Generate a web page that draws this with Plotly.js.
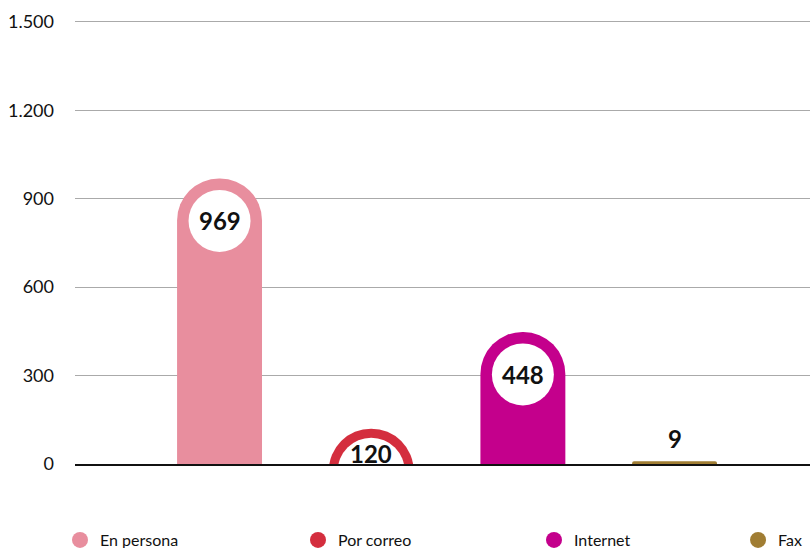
<!DOCTYPE html>
<html><head><meta charset="utf-8">
<script src="https://cdn.plot.ly/plotly-3.0.1.min.js"></script>
<style>html,body{margin:0;padding:0;background:#fff}#chart{width:810px;height:548px}</style>
</head><body><div id="chart"></div>
<script>
const categories = ['En persona', 'Por correo', 'Internet', 'Fax'];
const values = [969, 120, 448, 9];
const colors = ['#E88E9E', '#D42E3E', '#C4008C', '#A07D33'];
const yTickVals = [0, 300, 600, 900, 1200, 1500];
const yTickText = ['0', '300', '600', '900', '1.200', '1.500'];

const W = 810, H = 548, M = {l: 75, r: 0, t: 19, b: 84, autoexpand: false};
const plotW = W - M.l - M.r, plotH = H - M.t - M.b;
const yMax = 1510;
const xRange = [-0.953, 3.893];
const barWidth = 0.56;
const pxPerUnitY = plotH / yMax;
const pxPerCat = plotW / (xRange[1] - xRange[0]);
const barPx = barWidth * pxPerCat;
const capR = barPx / 2;
const capUnits = capR / pxPerUnitY;
const circleSize = 62;
const ringSize = barPx - 18;
const minLabelUnits = 34;
const labelFont = {family: 'Lato', size: 24, color: '#111'};

// classify bars: tall (rounded bar), ring (shorter than cap), flat (tiny)
const kind = values.map(v => {
  const h = v * pxPerUnitY;
  if (h < 10) return 'flat';
  if (h < capR) return 'ring';
  return 'tall';
});

const traces = [];
const bx = [], by = [], bc = [];
const rx = [], ry = [], rc = [];
const cx = [], cy = [], cs = [];
const annotations = [];
values.forEach((v, i) => {
  const c = v - capUnits;
  if (kind[i] === 'ring') {
    rx.push(categories[i]); ry.push(c); rc.push(colors[i]);
    cx.push(categories[i]); cy.push(c); cs.push(ringSize);
    annotations.push({x: categories[i], y: Math.max(c, minLabelUnits), yanchor: 'middle', showarrow: false,
      text: '<b>' + v + '</b>', font: labelFont});
  } else {
    bx.push(categories[i]); by.push(v); bc.push(colors[i]);
    if (kind[i] === 'tall') {
      cx.push(categories[i]); cy.push(c); cs.push(circleSize);
      annotations.push({x: categories[i], y: c, yanchor: 'middle', showarrow: false,
        text: '<b>' + v + '</b>', font: labelFont});
    } else {
      annotations.push({x: categories[i], y: v, yanchor: 'bottom', yshift: 6, showarrow: false,
        text: '<b>' + v + '</b>', font: labelFont});
    }
  }
});

traces.push({
  type: 'bar', x: bx, y: by, width: barWidth,
  marker: {color: bc, cornerradius: '50%'},
  showlegend: false, hoverinfo: 'x+y'
});
traces.push({
  type: 'scatter', mode: 'markers', x: rx, y: ry,
  marker: {color: rc, size: barPx, opacity: 1, line: {width: 0}},
  showlegend: false, hoverinfo: 'skip', cliponaxis: true
});
traces.push({
  type: 'scatter', mode: 'markers', x: cx, y: cy,
  marker: {color: '#ffffff', size: cs, opacity: 1, line: {width: 0}},
  showlegend: false, hoverinfo: 'skip', cliponaxis: true
});

const legendNames = ['legend', 'legend2', 'legend3', 'legend4'];
const legendX = [-0.0204, 0.3034, 0.6245, 0.9021];
categories.forEach((c, i) => {
  traces.push({type: 'scatter', mode: 'markers', x: [null], y: [null], name: c,
    legend: legendNames[i],
    marker: {color: colors[i], size: 20, symbol: 'circle', opacity: 1}, showlegend: true});
});

const legendY = -(548 - 464 - (540 - 464)) / plotH; // legend centre ~8px above page bottom
const layout = {
  width: W, height: H, margin: M,
  paper_bgcolor: '#fff', plot_bgcolor: '#fff',
  font: {family: 'Lato', color: '#111'},
  showlegend: true,
  xaxis: {type: 'category', categoryorder: 'array', categoryarray: categories,
    range: xRange, showticklabels: false, showgrid: false, zeroline: false,
    showline: true, linecolor: '#111', linewidth: 2, ticks: '', fixedrange: true},
  yaxis: {range: [0, yMax], tickvals: yTickVals, ticktext: yTickText, showgrid: true,
    gridcolor: '#aaaaaa', gridwidth: 1, zeroline: false, showline: false, ticks: '',
    ticklabelstandoff: 20, tickfont: {family: 'Lato', size: 18, color: '#111'}},
  annotations: annotations
};
legendNames.forEach((n, i) => {
  layout[n] = {orientation: 'h', x: legendX[i], xanchor: 'left', y: -76 / plotH, yanchor: 'middle',
    font: {family: 'Lato', size: 16, color: '#111'}, bgcolor: 'rgba(0,0,0,0)',
    itemclick: false, itemdoubleclick: false};
});
Plotly.newPlot('chart', traces, layout, {displayModeBar: false, staticPlot: true});
</script></body></html>
